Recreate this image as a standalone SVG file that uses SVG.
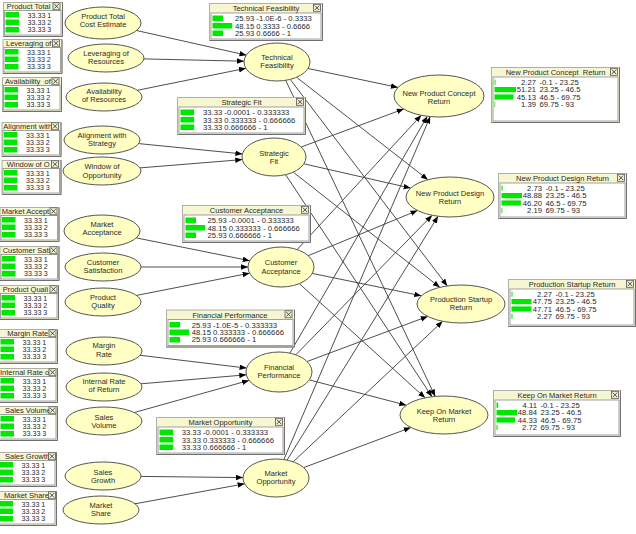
<svg xmlns="http://www.w3.org/2000/svg" width="636" height="534" viewBox="0 0 636 534">
<style>
.frm{fill:#f6f6d3;stroke:#b0b0a8;stroke-width:1}
.shd{fill:none;stroke:#707070;stroke-width:1}
.bdy{fill:#fff;stroke:#8a8a8a;stroke-width:0.8}
.bar{fill:#00e800}
text{font-family:"Liberation Sans",Arial,sans-serif;fill:#2a2a2a}
.ttl{font-size:7.5px}
.tc{font-size:7.5px;text-anchor:middle}
.v{font-size:6.8px}
.ve{font-size:6.8px;text-anchor:end}
.nd{fill:#ffffc4;stroke:#555;stroke-width:1}
.lbl{font-size:7.5px;text-anchor:middle}
.edges line{stroke:#3a3a3a;stroke-width:0.9;marker-end:url(#ah)}
</style>
<defs>
<marker id="ah" markerUnits="userSpaceOnUse" markerWidth="8" markerHeight="6" refX="7" refY="2.75" orient="auto"><path d="M0,0 L7,2.75 L0,5.5 z" fill="#000"/></marker>
<g id="xb"><rect x="0.5" y="0.5" width="7" height="7" fill="#f6f6d3" stroke="#555" stroke-width="0.8"/><path d="M1.8,1.8 L6.2,6.2 M6.2,1.8 L1.8,6.2" stroke="#333" stroke-width="0.9"/></g>
</defs>
<rect width="636" height="534" fill="#fff"/>

<g class="edges" id="connectors">
<line x1="136.5" y1="30.5" x2="246.5" y2="55.2"/>
<line x1="143.9" y1="58.9" x2="244" y2="61.2"/>
<line x1="137.3" y1="90.3" x2="245.9" y2="68.3"/>
<line x1="138.7" y1="143.6" x2="242.4" y2="153.9"/>
<line x1="140" y1="167.9" x2="242.3" y2="159.6"/>
<line x1="136.3" y1="237.9" x2="249.7" y2="260.7"/>
<line x1="141" y1="267" x2="248" y2="267"/>
<line x1="136.5" y1="295.4" x2="249.6" y2="273.2"/>
<line x1="140.1" y1="355.3" x2="246.6" y2="368.1"/>
<line x1="141" y1="383.8" x2="246.3" y2="374.8"/>
<line x1="134.3" y1="412.5" x2="249" y2="380.4"/>
<line x1="141" y1="476.4" x2="243" y2="477.6"/>
<line x1="135" y1="503.8" x2="244.6" y2="483.8"/>
<line x1="308" y1="68.5" x2="397.9" y2="87.4"/>
<line x1="296.6" y1="77.3" x2="427.9" y2="179.7"/>
<line x1="290.2" y1="79.4" x2="447.3" y2="285.9"/>
<line x1="285.7" y1="80.3" x2="435.2" y2="396.4"/>
<line x1="301.2" y1="147" x2="403.7" y2="109"/>
<line x1="303.9" y1="163.8" x2="410.6" y2="188.1"/>
<line x1="293.3" y1="172.2" x2="439.8" y2="287.3"/>
<line x1="285.7" y1="174.7" x2="432" y2="396.7"/>
<line x1="297.1" y1="249.6" x2="421.2" y2="115.3"/>
<line x1="308.2" y1="255.7" x2="417.5" y2="210.5"/>
<line x1="312.2" y1="273.4" x2="421.3" y2="295.8"/>
<line x1="299.3" y1="283.6" x2="425.1" y2="397.8"/>
<line x1="289.9" y1="353.1" x2="427.3" y2="116.3"/>
<line x1="295.8" y1="354.8" x2="432.1" y2="215.3"/>
<line x1="307.1" y1="361.5" x2="427.7" y2="316.4"/>
<line x1="309.3" y1="379.9" x2="406.3" y2="405.2"/>
<line x1="283.9" y1="459.5" x2="430.2" y2="116.6"/>
<line x1="287.1" y1="460.1" x2="438.1" y2="216.2"/>
<line x1="293.2" y1="461.8" x2="442.6" y2="321.3"/>
<line x1="303.7" y1="467.6" x2="410.8" y2="427.5"/>
</g>

<!-- left nodes -->
<g id="n-product-total"><ellipse class="nd" cx="103" cy="23" rx="38" ry="16"/><text class="lbl" x="103" y="18.7">Product Total</text><text class="lbl" x="103" y="26.7">Cost Estimate</text></g>
<g id="n-leveraging"><ellipse class="nd" cx="106" cy="58" rx="38" ry="14"/><text class="lbl" x="106" y="56">Leveraging of</text><text class="lbl" x="106" y="64.3">Resources</text></g>
<g id="n-availability"><ellipse class="nd" cx="104" cy="97" rx="38" ry="14"/><text class="lbl" x="104" y="94.4">Availability</text><text class="lbl" x="104" y="102">of Resources</text></g>
<g id="n-alignment"><ellipse class="nd" cx="102" cy="140" rx="38" ry="14"/><text class="lbl" x="102" y="137.7">Alignment with</text><text class="lbl" x="102" y="146">Strategy</text></g>
<g id="n-window"><ellipse class="nd" cx="102" cy="171" rx="39" ry="14"/><text class="lbl" x="102" y="169.4">Window of</text><text class="lbl" x="102" y="177.7">Opportunity</text></g>
<g id="n-market-acceptance"><ellipse class="nd" cx="102" cy="231" rx="38" ry="16"/><text class="lbl" x="102" y="226.7">Market</text><text class="lbl" x="102" y="235">Acceptance</text></g>
<g id="n-customer-satisfaction"><ellipse class="nd" cx="103" cy="267" rx="38" ry="14"/><text class="lbl" x="103" y="265">Customer</text><text class="lbl" x="103" y="272.7">Satisfaction</text></g>
<g id="n-product-quality"><ellipse class="nd" cx="103" cy="302" rx="38" ry="14"/><text class="lbl" x="103" y="300">Product</text><text class="lbl" x="103" y="307.7">Quality</text></g>
<g id="n-margin-rate"><ellipse class="nd" cx="104" cy="351" rx="38" ry="14"/><text class="lbl" x="104" y="348.4">Margin</text><text class="lbl" x="104" y="356.7">Rate</text></g>
<g id="n-irr"><ellipse class="nd" cx="104" cy="387" rx="38" ry="14"/><text class="lbl" x="104" y="384.4">Internal Rate</text><text class="lbl" x="104" y="392">of Return</text></g>
<g id="n-sales-volume"><ellipse class="nd" cx="104" cy="421" rx="38" ry="14"/><text class="lbl" x="104" y="420">Sales</text><text class="lbl" x="104" y="428.4">Volume</text></g>
<g id="n-sales-growth"><ellipse class="nd" cx="103" cy="476" rx="38" ry="14"/><text class="lbl" x="103" y="475">Sales</text><text class="lbl" x="103" y="482.7">Growth</text></g>
<g id="n-market-share"><ellipse class="nd" cx="101" cy="510" rx="38" ry="14"/><text class="lbl" x="101" y="507.7">Market</text><text class="lbl" x="101" y="516">Share</text></g>

<!-- middle nodes -->
<g id="n-technical-feasibility"><ellipse class="nd" cx="277" cy="62" rx="33" ry="19"/><text class="lbl" x="277" y="60.4">Technical</text><text class="lbl" x="277" y="68.4">Feasibility</text></g>
<g id="n-strategic-fit"><ellipse class="nd" cx="274" cy="157" rx="32" ry="19"/><text class="lbl" x="274" y="156">Strategic</text><text class="lbl" x="274" y="163.7">Fit</text></g>
<g id="n-customer-acceptance"><ellipse class="nd" cx="281" cy="267" rx="33" ry="20"/><text class="lbl" x="281" y="265.4">Customer</text><text class="lbl" x="281" y="273.7">Acceptance</text></g>
<g id="n-financial-performance"><ellipse class="nd" cx="279" cy="372" rx="33" ry="20"/><text class="lbl" x="279" y="370">Financial</text><text class="lbl" x="279" y="378.4">Performance</text></g>
<g id="n-market-opportunity"><ellipse class="nd" cx="276" cy="478" rx="33" ry="19"/><text class="lbl" x="276" y="476">Market</text><text class="lbl" x="276" y="484.4">Opportunity</text></g>

<!-- right nodes -->
<g id="n-npc-return"><ellipse class="nd" cx="439" cy="96" rx="45" ry="21"/><text class="lbl" x="439" y="96">New Product Concept</text><text class="lbl" x="439" y="103.7">Return</text></g>
<g id="n-npd-return"><ellipse class="nd" cx="450" cy="197" rx="44" ry="20"/><text class="lbl" x="450" y="196">New Product Design</text><text class="lbl" x="450" y="203.7">Return</text></g>
<g id="n-ps-return"><ellipse class="nd" cx="461" cy="304" rx="44" ry="19"/><text class="lbl" x="461" y="302">Production Startup</text><text class="lbl" x="461" y="310">Return</text></g>
<g id="n-kom-return"><ellipse class="nd" cx="444" cy="415" rx="44" ry="19"/><text class="lbl" x="444" y="414.4">Keep On Market</text><text class="lbl" x="444" y="422">Return</text></g>

<!-- left monitor boxes -->
<g id="m-product-total" transform="translate(3,2)"><rect class="frm" x="0.5" y="0.5" width="59" height="34"/><path class="shd" d="M59.5,0.5V34.5H0.5"/><rect class="bdy" x="1.5" y="8.5" width="56.5" height="24.5"/><rect class="bar" x="2.5" y="10" width="13.5" height="5.5"/><rect class="bar" x="2.5" y="17.5" width="13.5" height="5.5"/><rect class="bar" x="2.5" y="25" width="13.5" height="5.5"/><g transform="translate(24.5,0) scale(1.05,1)"><text class="v" x="0" y="15.7">33.33 1</text><text class="v" x="0" y="23">33.33 2</text><text class="v" x="0" y="30.3">33.33 3</text></g><text class="ttl" x="3.7" y="7">Product Total</text><use href="#xb" x="49.5" y="0.3"/></g>
<g id="m-leveraging" transform="translate(2.5,39)"><rect class="frm" x="0.5" y="0.5" width="59" height="34"/><path class="shd" d="M59.5,0.5V34.5H0.5"/><rect class="bdy" x="1.5" y="8.5" width="56.5" height="24.5"/><rect class="bar" x="2.5" y="10" width="13.5" height="5.5"/><rect class="bar" x="2.5" y="17.5" width="13.5" height="5.5"/><rect class="bar" x="2.5" y="25" width="13.5" height="5.5"/><g transform="translate(24.5,0) scale(1.05,1)"><text class="v" x="0" y="15.7">33.33 1</text><text class="v" x="0" y="23">33.33 2</text><text class="v" x="0" y="30.3">33.33 3</text></g><text class="ttl" x="3.5" y="7">Leveraging of</text><use href="#xb" x="49.5" y="0.3"/></g>
<g id="m-availability" transform="translate(2,77)"><rect class="frm" x="0.5" y="0.5" width="59" height="34"/><path class="shd" d="M59.5,0.5V34.5H0.5"/><rect class="bdy" x="1.5" y="8.5" width="56.5" height="24.5"/><rect class="bar" x="2.5" y="10" width="13.5" height="5.5"/><rect class="bar" x="2.5" y="17.5" width="13.5" height="5.5"/><rect class="bar" x="2.5" y="25" width="13.5" height="5.5"/><g transform="translate(24.5,0) scale(1.05,1)"><text class="v" x="0" y="15.7">33.33 1</text><text class="v" x="0" y="23">33.33 2</text><text class="v" x="0" y="30.3">33.33 3</text></g><text class="ttl" x="3" y="7">Availability&#160; of</text><use href="#xb" x="49.5" y="0.3"/></g>
<g id="m-alignment" transform="translate(1.5,122)"><rect class="frm" x="0.5" y="0.5" width="59" height="34"/><path class="shd" d="M59.5,0.5V34.5H0.5"/><rect class="bdy" x="1.5" y="8.5" width="56.5" height="24.5"/><rect class="bar" x="2.5" y="10" width="13.5" height="5.5"/><rect class="bar" x="2.5" y="17.5" width="13.5" height="5.5"/><rect class="bar" x="2.5" y="25" width="13.5" height="5.5"/><g transform="translate(24.5,0) scale(1.05,1)"><text class="v" x="0" y="15.7">33.33 1</text><text class="v" x="0" y="23">33.33 2</text><text class="v" x="0" y="30.3">33.33 3</text></g><text class="ttl" x="1.8" y="7">Alignment with</text><use href="#xb" x="49.5" y="0.3"/></g>
<g id="m-window" transform="translate(1.5,160)"><rect class="frm" x="0.5" y="0.5" width="59" height="34"/><path class="shd" d="M59.5,0.5V34.5H0.5"/><rect class="bdy" x="1.5" y="8.5" width="56.5" height="24.5"/><rect class="bar" x="2.5" y="10" width="13.5" height="5.5"/><rect class="bar" x="2.5" y="17.5" width="13.5" height="5.5"/><rect class="bar" x="2.5" y="25" width="13.5" height="5.5"/><g transform="translate(24.5,0) scale(1.05,1)"><text class="v" x="0" y="15.7">33.33 1</text><text class="v" x="0" y="23">33.33 2</text><text class="v" x="0" y="30.3">33.33 3</text></g><text class="ttl" x="5.2" y="7">Window of O</text><use href="#xb" x="49.5" y="0.3"/></g>
<g id="m-market-accept" transform="translate(-0.5,207)"><rect class="frm" x="0.5" y="0.5" width="59" height="34"/><path class="shd" d="M59.5,0.5V34.5H0.5"/><rect class="bdy" x="1.5" y="8.5" width="56.5" height="24.5"/><rect class="bar" x="2.5" y="10" width="13.5" height="5.5"/><rect class="bar" x="2.5" y="17.5" width="13.5" height="5.5"/><rect class="bar" x="2.5" y="25" width="13.5" height="5.5"/><g transform="translate(24.5,0) scale(1.05,1)"><text class="v" x="0" y="15.7">33.33 1</text><text class="v" x="0" y="23">33.33 2</text><text class="v" x="0" y="30.3">33.33 3</text></g><text class="ttl" x="2.2" y="7">Market Accept</text><use href="#xb" x="50" y="0.3"/></g>
<g id="m-customer-sati" transform="translate(-0.5,246)"><rect class="frm" x="0.5" y="0.5" width="59" height="34"/><path class="shd" d="M59.5,0.5V34.5H0.5"/><rect class="bdy" x="1.5" y="8.5" width="56.5" height="24.5"/><rect class="bar" x="2.5" y="10" width="13.5" height="5.5"/><rect class="bar" x="2.5" y="17.5" width="13.5" height="5.5"/><rect class="bar" x="2.5" y="25" width="13.5" height="5.5"/><g transform="translate(24.5,0) scale(1.05,1)"><text class="v" x="0" y="15.7">33.33 1</text><text class="v" x="0" y="23">33.33 2</text><text class="v" x="0" y="30.3">33.33 3</text></g><text class="ttl" x="3.2" y="7">Customer Sati</text><use href="#xb" x="50" y="0.3"/></g>
<g id="m-product-quali" transform="translate(-1,285)"><rect class="frm" x="0.5" y="0.5" width="59" height="34"/><path class="shd" d="M59.5,0.5V34.5H0.5"/><rect class="bdy" x="1.5" y="8.5" width="56.5" height="24.5"/><rect class="bar" x="2.5" y="10" width="13.5" height="5.5"/><rect class="bar" x="2.5" y="17.5" width="13.5" height="5.5"/><rect class="bar" x="2.5" y="25" width="13.5" height="5.5"/><g transform="translate(24.5,0) scale(1.05,1)"><text class="v" x="0" y="15.7">33.33 1</text><text class="v" x="0" y="23">33.33 2</text><text class="v" x="0" y="30.3">33.33 3</text></g><text class="ttl" x="3.7" y="7">Product Quali</text><use href="#xb" x="50.5" y="0.3"/></g>
<g id="m-margin-rate" transform="translate(-2,329)"><rect class="frm" x="0.5" y="0.5" width="59" height="34"/><path class="shd" d="M59.5,0.5V34.5H0.5"/><rect class="bdy" x="1.5" y="8.5" width="56.5" height="24.5"/><rect class="bar" x="2.5" y="10" width="13.5" height="5.5"/><rect class="bar" x="2.5" y="17.5" width="13.5" height="5.5"/><rect class="bar" x="2.5" y="25" width="13.5" height="5.5"/><g transform="translate(24.5,0) scale(1.05,1)"><text class="v" x="0" y="15.7">33.33 1</text><text class="v" x="0" y="23">33.33 2</text><text class="v" x="0" y="30.3">33.33 3</text></g><text class="ttl" x="9.3" y="7">Margin Rate</text><use href="#xb" x="50.5" y="0.3"/></g>
<g id="m-internal-rate" transform="translate(-2,368)"><rect class="frm" x="0.5" y="0.5" width="59" height="34"/><path class="shd" d="M59.5,0.5V34.5H0.5"/><rect class="bdy" x="1.5" y="8.5" width="56.5" height="24.5"/><rect class="bar" x="2.5" y="10" width="13.5" height="5.5"/><rect class="bar" x="2.5" y="17.5" width="13.5" height="5.5"/><rect class="bar" x="2.5" y="25" width="13.5" height="5.5"/><g transform="translate(24.5,0) scale(1.05,1)"><text class="v" x="0" y="15.7">33.33 1</text><text class="v" x="0" y="23">33.33 2</text><text class="v" x="0" y="30.3">33.33 3</text></g><text class="ttl" x="2" y="7">Internal Rate o</text><use href="#xb" x="50.5" y="0.3"/></g>
<g id="m-sales-volume" transform="translate(-2,406)"><rect class="frm" x="0.5" y="0.5" width="59" height="34"/><path class="shd" d="M59.5,0.5V34.5H0.5"/><rect class="bdy" x="1.5" y="8.5" width="56.5" height="24.5"/><rect class="bar" x="2.5" y="10" width="13.5" height="5.5"/><rect class="bar" x="2.5" y="17.5" width="13.5" height="5.5"/><rect class="bar" x="2.5" y="25" width="13.5" height="5.5"/><g transform="translate(24.5,0) scale(1.05,1)"><text class="v" x="0" y="15.7">33.33 1</text><text class="v" x="0" y="23">33.33 2</text><text class="v" x="0" y="30.3">33.33 3</text></g><text class="ttl" x="7" y="7">Sales Volume</text><use href="#xb" x="50.5" y="0.3"/></g>
<g id="m-sales-growth" transform="translate(-3,452)"><rect class="frm" x="0.5" y="0.5" width="59" height="34"/><path class="shd" d="M59.5,0.5V34.5H0.5"/><rect class="bdy" x="1.5" y="8.5" width="56.5" height="24.5"/><rect class="bar" x="2.5" y="10" width="13.5" height="5.5"/><rect class="bar" x="2.5" y="17.5" width="13.5" height="5.5"/><rect class="bar" x="2.5" y="25" width="13.5" height="5.5"/><g transform="translate(24.5,0) scale(1.05,1)"><text class="v" x="0" y="15.7">33.33 1</text><text class="v" x="0" y="23">33.33 2</text><text class="v" x="0" y="30.3">33.33 3</text></g><text class="ttl" x="8" y="7">Sales Growth</text><use href="#xb" x="51" y="0.3"/></g>
<g id="m-market-share" transform="translate(-3,491)"><rect class="frm" x="0.5" y="0.5" width="59" height="34"/><path class="shd" d="M59.5,0.5V34.5H0.5"/><rect class="bdy" x="1.5" y="8.5" width="56.5" height="24.5"/><rect class="bar" x="2.5" y="10" width="13.5" height="5.5"/><rect class="bar" x="2.5" y="17.5" width="13.5" height="5.5"/><rect class="bar" x="2.5" y="25" width="13.5" height="5.5"/><g transform="translate(24.5,0) scale(1.05,1)"><text class="v" x="0" y="15.7">33.33 1</text><text class="v" x="0" y="23">33.33 2</text><text class="v" x="0" y="30.3">33.33 3</text></g><text class="ttl" x="7" y="7">Market Share</text><use href="#xb" x="51" y="0.3"/></g>

<!-- middle monitor boxes -->
<g id="m-technical-feasibility" transform="translate(209,3)"><rect class="frm" x="0.5" y="0.5" width="113" height="37"/><path class="shd" d="M113.5,0.5V37.5H0.5"/><rect class="bdy" x="2" y="10" width="110" height="26"/><rect class="bar" x="3.5" y="12.5" width="10.6" height="5.5"/><rect class="bar" x="3.5" y="20" width="19.7" height="5.5"/><rect class="bar" x="3.5" y="27.5" width="10.6" height="5.5"/><g transform="translate(26,0) scale(1.13,1)"><text class="v" x="0" y="18.3">25.93 -1.0E-6 - 0.3333</text><text class="v" x="0" y="25.6">48.15 0.3333 - 0.6666</text><text class="v" x="0" y="32.9">25.93 0.6666 - 1</text></g><text class="tc" x="57" y="8">Technical Feasibility</text><use href="#xb" x="104" y="0.8"/></g>
<g id="m-strategic-fit" transform="translate(177,97)"><rect class="frm" x="0.5" y="0.5" width="128" height="37"/><path class="shd" d="M128.5,0.5V37.5H0.5"/><rect class="bdy" x="2" y="10" width="125" height="26"/><rect class="bar" x="3.5" y="12.5" width="13.7" height="5.5"/><rect class="bar" x="3.5" y="20" width="13.7" height="5.5"/><rect class="bar" x="3.5" y="27.5" width="13.7" height="5.5"/><g transform="translate(26,0) scale(1.13,1)"><text class="v" x="0" y="18.3">33.33 -0.0001 - 0.333333</text><text class="v" x="0" y="25.6">33.33 0.333333 - 0.666666</text><text class="v" x="0" y="32.9">33.33 0.666666 - 1</text></g><text class="tc" x="64.5" y="8">Strategic Fit</text><use href="#xb" x="119" y="0.8"/></g>
<g id="m-customer-acceptance" transform="translate(182,205)"><rect class="frm" x="0.5" y="0.5" width="128" height="37"/><path class="shd" d="M128.5,0.5V37.5H0.5"/><rect class="bdy" x="2" y="10" width="125" height="26"/><rect class="bar" x="3.5" y="12.5" width="10.6" height="5.5"/><rect class="bar" x="3.5" y="20" width="19.7" height="5.5"/><rect class="bar" x="3.5" y="27.5" width="10.6" height="5.5"/><g transform="translate(25.5,0) scale(1.13,1)"><text class="v" x="0" y="18.3">25.93 -0.0001 - 0.333333</text><text class="v" x="0" y="25.6">48.15 0.333333 - 0.666666</text><text class="v" x="0" y="32.9">25.93 0.666666 - 1</text></g><text class="tc" x="64.5" y="8">Customer Acceptance</text><use href="#xb" x="119" y="0.8"/></g>
<g id="m-financial-performance" transform="translate(166,309.5)"><rect class="frm" x="0.5" y="0.5" width="128" height="37"/><path class="shd" d="M128.5,0.5V37.5H0.5"/><rect class="bdy" x="2" y="10" width="125" height="26"/><rect class="bar" x="3.5" y="12.5" width="10.6" height="5.5"/><rect class="bar" x="3.5" y="20" width="19.7" height="5.5"/><rect class="bar" x="3.5" y="27.5" width="10.6" height="5.5"/><g transform="translate(25.7,0) scale(1.13,1)"><text class="v" x="0" y="18.3">25.93 -1.0E-5 - 0.333333</text><text class="v" x="0" y="25.6">48.15 0.333333 - 0.666666</text><text class="v" x="0" y="32.9">25.93 0.666666 - 1</text></g><text class="tc" x="64" y="8">Financial Performance</text><use href="#xb" x="118.5" y="0.8"/></g>
<g id="m-market-opportunity" transform="translate(156,417)"><rect class="frm" x="0.5" y="0.5" width="128" height="37"/><path class="shd" d="M128.5,0.5V37.5H0.5"/><rect class="bdy" x="2" y="10" width="125" height="26"/><rect class="bar" x="3.5" y="12.5" width="13.7" height="5.5"/><rect class="bar" x="3.5" y="20" width="13.7" height="5.5"/><rect class="bar" x="3.5" y="27.5" width="13.7" height="5.5"/><g transform="translate(25.7,0) scale(1.13,1)"><text class="v" x="0" y="18.3">33.33 -0.0001 - 0.333333</text><text class="v" x="0" y="25.6">33.33 0.333333 - 0.666666</text><text class="v" x="0" y="32.9">33.33 0.666666 - 1</text></g><text class="tc" x="64.5" y="8">Market Opportunity</text><use href="#xb" x="119" y="0.8"/></g>

<!-- right monitor boxes -->
<g id="m-npc-return" transform="translate(491,67)"><rect class="frm" x="0.5" y="0.5" width="128" height="55"/><path class="shd" d="M128.5,0.5V55.5H0.5"/><rect class="bdy" x="2" y="10" width="125" height="44"/><rect class="bar" x="3.5" y="12.6" width="1" height="5.2"/><rect class="bar" x="3.5" y="20" width="21.5" height="5.2"/><rect class="bar" x="3.5" y="27.4" width="19" height="5.2"/><rect class="bar" x="3.5" y="34.8" width="0.7" height="5.2"/><g transform="translate(45,0) scale(1.13,1)"><text class="ve" x="0" y="17.8">2.27</text><text class="ve" x="0" y="25.2">51.21</text><text class="ve" x="0" y="32.6">45.13</text><text class="ve" x="0" y="40">1.39</text></g><g transform="translate(48.5,0) scale(1.13,1)"><text class="v" x="0" y="17.8">-0.1 - 23.25</text><text class="v" x="0" y="25.2">23.25 - 46.5</text><text class="v" x="0" y="32.6">46.5 - 69.75</text><text class="v" x="0" y="40">69.75 - 93</text></g><text class="tc" x="64.5" y="8">New Product Concept&#160; Return</text><use href="#xb" x="119" y="0.8"/></g>
<g id="m-npd-return" transform="translate(498,173)"><rect class="frm" x="0.5" y="0.5" width="128" height="45"/><path class="shd" d="M128.5,0.5V45.5H0.5"/><rect class="bdy" x="2" y="10" width="125" height="34"/><rect class="bar" x="3.5" y="12.6" width="1.1" height="5.2"/><rect class="bar" x="3.5" y="20" width="20.5" height="5.2"/><rect class="bar" x="3.5" y="27.4" width="19.4" height="5.2"/><rect class="bar" x="3.5" y="34.8" width="0.9" height="5.2"/><g transform="translate(44,0) scale(1.13,1)"><text class="ve" x="0" y="17.8">2.73</text><text class="ve" x="0" y="25.2">48.88</text><text class="ve" x="0" y="32.6">46.20</text><text class="ve" x="0" y="40">2.19</text></g><g transform="translate(47.5,0) scale(1.13,1)"><text class="v" x="0" y="17.8">-0.1 - 23.25</text><text class="v" x="0" y="25.2">23.25 - 46.5</text><text class="v" x="0" y="32.6">46.5 - 69.75</text><text class="v" x="0" y="40">69.75 - 93</text></g><text class="tc" x="64.5" y="8">New Product Design Return</text><use href="#xb" x="119" y="0.8"/></g>
<g id="m-ps-return" transform="translate(508,279)"><rect class="frm" x="0.5" y="0.5" width="127" height="47"/><path class="shd" d="M127.5,0.5V47.5H0.5"/><rect class="bdy" x="2" y="10" width="124" height="36"/><rect class="bar" x="3.5" y="12.6" width="1" height="5.2"/><rect class="bar" x="3.5" y="20" width="20" height="5.2"/><rect class="bar" x="3.5" y="27.4" width="20" height="5.2"/><rect class="bar" x="3.5" y="34.8" width="1" height="5.2"/><g transform="translate(44,0) scale(1.13,1)"><text class="ve" x="0" y="17.8">2.27</text><text class="ve" x="0" y="25.2">47.75</text><text class="ve" x="0" y="32.6">47.71</text><text class="ve" x="0" y="40">2.27</text></g><g transform="translate(47.5,0) scale(1.13,1)"><text class="v" x="0" y="17.8">-0.1 - 23.25</text><text class="v" x="0" y="25.2">23.25 - 46.5</text><text class="v" x="0" y="32.6">46.5 - 69.75</text><text class="v" x="0" y="40">69.75 - 93</text></g><text class="tc" x="64" y="8">Production Startup Return</text><use href="#xb" x="118" y="0.8"/></g>
<g id="m-kom-return" transform="translate(493,390)"><rect class="frm" x="0.5" y="0.5" width="127" height="46"/><path class="shd" d="M127.5,0.5V46.5H0.5"/><rect class="bdy" x="2" y="10" width="124" height="35"/><rect class="bar" x="3.5" y="12.6" width="1.7" height="5.2"/><rect class="bar" x="3.5" y="20" width="20.5" height="5.2"/><rect class="bar" x="3.5" y="27.4" width="18.6" height="5.2"/><rect class="bar" x="3.5" y="34.8" width="1.1" height="5.2"/><g transform="translate(44,0) scale(1.13,1)"><text class="ve" x="0" y="17.8">4.11</text><text class="ve" x="0" y="25.2">48.84</text><text class="ve" x="0" y="32.6">44.33</text><text class="ve" x="0" y="40">2.72</text></g><g transform="translate(47.5,0) scale(1.13,1)"><text class="v" x="0" y="17.8">-0.1 - 23.25</text><text class="v" x="0" y="25.2">23.25 - 46.5</text><text class="v" x="0" y="32.6">46.5 - 69.75</text><text class="v" x="0" y="40">69.75 - 93</text></g><text class="tc" x="64" y="8">Keep On Market Return</text><use href="#xb" x="118" y="0.8"/></g>
</svg>
